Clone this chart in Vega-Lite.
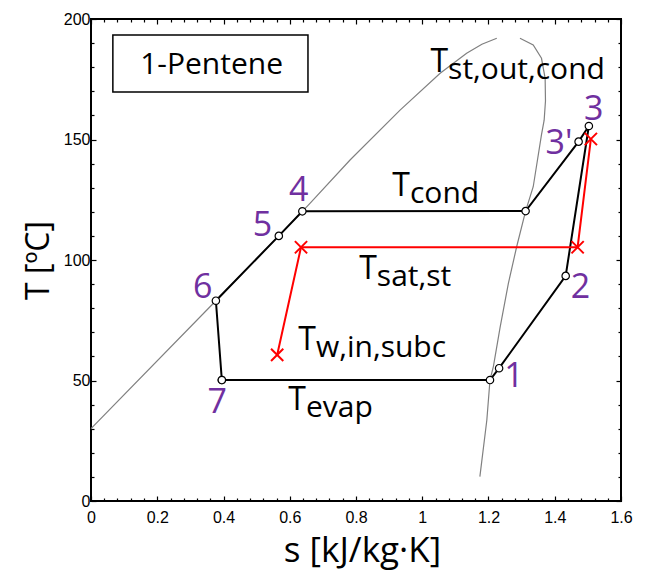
{
  "$schema": "https://vega.github.io/schema/vega-lite/v6.json",
  "width": 530,
  "height": 482,
  "autosize": {"type": "none"},
  "padding": {"left": 91, "top": 19, "right": 25, "bottom": 69},
  "config": {
    "view": {"stroke": "black", "strokeWidth": 2},
    "font": "Open Sans",
    "axis": {"grid": false, "domain": false, "tickColor": "black", "tickWidth": 1.2, "labelOverlap": false, "labelFlush": false, "labelColor": "black", "titleColor": "black"}
  },
  "datasets": {
    "liq": [
      {"s": 0, "T": 30}, {"s": 0.377, "T": 83.1}, {"s": 0.567, "T": 110}, {"s": 0.638, "T": 120.2},
      {"s": 0.661, "T": 123.5}, {"s": 0.782, "T": 141.5}, {"s": 0.933, "T": 162.2}, {"s": 1.054, "T": 177.5},
      {"s": 1.134, "T": 185.8}, {"s": 1.18, "T": 189.5}, {"s": 1.225, "T": 192}
    ],
    "vap": [
      {"o": 1, "s": 1.295, "T": 192}, {"o": 2, "s": 1.335, "T": 189.2}, {"o": 3, "s": 1.36, "T": 183.7},
      {"o": 4, "s": 1.371, "T": 175.4}, {"o": 5, "s": 1.372, "T": 166}, {"o": 6, "s": 1.368, "T": 158},
      {"o": 7, "s": 1.36, "T": 152}, {"o": 8, "s": 1.335, "T": 130.4}, {"o": 9, "s": 1.312, "T": 120.3},
      {"o": 10, "s": 1.285, "T": 105.5}, {"o": 11, "s": 1.26, "T": 90.3}, {"o": 12, "s": 1.235, "T": 72},
      {"o": 13, "s": 1.215, "T": 56}, {"o": 14, "s": 1.2045, "T": 50.2}, {"o": 15, "s": 1.195, "T": 33.6},
      {"o": 16, "s": 1.174, "T": 10.1}
    ],
    "cycle": [
      {"o": 1, "s": 0.395, "T": 50.2}, {"o": 2, "s": 1.2045, "T": 50.2}, {"o": 3, "s": 1.232, "T": 55.1},
      {"o": 4, "s": 1.433, "T": 93.4}, {"o": 5, "s": 1.503, "T": 155.6}, {"o": 6, "s": 1.472, "T": 149.1},
      {"o": 7, "s": 1.312, "T": 120.3}, {"o": 8, "s": 0.638, "T": 120.2}, {"o": 9, "s": 0.567, "T": 110},
      {"o": 10, "s": 0.377, "T": 83.1}, {"o": 11, "s": 0.395, "T": 50.2}
    ],
    "steam": [
      {"o": 1, "s": 0.562, "T": 60.6}, {"o": 2, "s": 0.634, "T": 105.3},
      {"o": 3, "s": 1.469, "T": 105.3}, {"o": 4, "s": 1.509, "T": 150.2}
    ],
    "nums": [
      {"s": 1.518, "T": 162.2, "lab": "3"}, {"s": 1.413, "T": 148.3, "lab": "3'"},
      {"s": 0.627, "T": 128.7, "lab": "4"}, {"s": 0.518, "T": 114.2, "lab": "5"},
      {"s": 0.337, "T": 88.4, "lab": "6"}, {"s": 0.381, "T": 40.5, "lab": "7"},
      {"s": 1.277, "T": 51.6, "lab": "1"}, {"s": 1.478, "T": 88.4, "lab": "2"}
    ],
    "tl": [
      {"s": 1.078, "T": 178.1, "sub": "st,out,cond"},
      {"s": 0.963, "T": 126.6, "sub": "cond"},
      {"s": 0.863, "T": 92.1, "sub": "sat,st"},
      {"s": 0.679, "T": 62.7, "sub": "w,in,subc"},
      {"s": 0.649, "T": 37.8, "sub": "evap"}
    ]
  },
  "resolve": {"axis": {"x": "independent", "y": "independent"}},
  "layer": [
    {
      "encoding": {
        "x": {
          "field": "s", "type": "quantitative",
          "scale": {"domain": [0, 1.6], "nice": false, "zero": false},
          "axis": {
            "orient": "bottom",
            "values": [0,0.04,0.08,0.12,0.16,0.2,0.24,0.28,0.32,0.36,0.4,0.44,0.48,0.52,0.56,0.6,0.64,0.68,0.72,0.76,0.8,0.84,0.88,0.92,0.96,1,1.04,1.08,1.12,1.16,1.2,1.24,1.28,1.32,1.36,1.4,1.44,1.48,1.52,1.56,1.6],
            "labelExpr": "abs(datum.value*5-round(datum.value*5))<0.001 ? format(datum.value,'~g') : ''",
            "tickSize": {"condition": {"test": "abs(datum.value*5-round(datum.value*5))<0.001", "value": -5}, "value": -3},
            "labelFont": "Liberation Sans", "labelFontSize": 16, "labelPadding": 13,
            "title": "s [kJ/kg·K]", "titleFont": "Open Sans", "titleFontSize": 35, "titleFontWeight": "normal", "titlePadding": 6, "titleX": 271
          }
        },
        "y": {
          "field": "T", "type": "quantitative",
          "scale": {"domain": [0, 200], "nice": false},
          "axis": {
            "orient": "left",
            "values": [0,10,20,30,40,50,60,70,80,90,100,110,120,130,140,150,160,170,180,190,200],
            "labelExpr": "datum.value%50==0 ? datum.value+'' : ''",
            "tickSize": {"condition": {"test": "datum.value%50==0", "value": -5}, "value": -3},
            "labelFont": "Liberation Sans", "labelFontSize": 16, "labelPadding": 6,
            "title": "T [ºC]", "titleFont": "Open Sans", "titleFontSize": 32, "titleFontWeight": "normal", "titlePadding": 8
          }
        }
      },
      "layer": [
        {"data": {"name": "liq"}, "mark": {"type": "line", "color": "#808080", "strokeWidth": 1.2}, "encoding": {}},
        {"data": {"name": "vap"}, "mark": {"type": "line", "color": "#808080", "strokeWidth": 1.2}, "encoding": {"order": {"field": "o", "type": "quantitative"}}},
        {"data": {"name": "cycle"}, "mark": {"type": "line", "color": "black", "strokeWidth": 2}, "encoding": {"order": {"field": "o", "type": "quantitative"}}},
        {"data": {"name": "steam"}, "mark": {"type": "line", "color": "#FF0000", "strokeWidth": 2}, "encoding": {"order": {"field": "o", "type": "quantitative"}}},
        {"data": {"name": "cycle"}, "mark": {"type": "point", "filled": true, "fill": "white", "stroke": "black", "strokeWidth": 1.2, "size": 55, "opacity": 1}, "encoding": {}},
        {"data": {"name": "steam"}, "mark": {"type": "point", "shape": "M-1,-1L1,1M-1,1L1,-1", "filled": false, "stroke": "#FF0000", "strokeWidth": 2, "size": 150, "opacity": 1}, "encoding": {}},
        {"data": {"name": "nums"}, "mark": {"type": "text", "color": "#7030A0", "fontSize": 34, "font": "Open Sans", "align": "center", "baseline": "middle"}, "encoding": {"text": {"field": "lab"}}},
        {"data": {"name": "tl"}, "mark": {"type": "text", "text": "T", "color": "black", "fontSize": 32, "font": "Open Sans", "align": "right", "baseline": "alphabetic"}, "encoding": {}},
        {"data": {"name": "tl"}, "mark": {"type": "text", "color": "black", "fontSize": 30, "font": "Open Sans", "align": "left", "baseline": "alphabetic", "dy": 7}, "encoding": {"text": {"field": "sub"}}}
      ]
    },
    {
      "data": {"values": [{"s0": 0.066, "s1": 0.655, "T0": 169.7, "T1": 193.4}]},
      "mark": {"type": "rect", "fill": "white", "stroke": "black", "strokeWidth": 1.5},
      "encoding": {
        "x": {"field": "s0", "type": "quantitative", "axis": {
          "orient": "top", "labels": false, "title": null,
          "values": [0,0.04,0.08,0.12,0.16,0.2,0.24,0.28,0.32,0.36,0.4,0.44,0.48,0.52,0.56,0.6,0.64,0.68,0.72,0.76,0.8,0.84,0.88,0.92,0.96,1,1.04,1.08,1.12,1.16,1.2,1.24,1.28,1.32,1.36,1.4,1.44,1.48,1.52,1.56,1.6],
          "tickSize": {"condition": {"test": "abs(datum.value*5-round(datum.value*5))<0.001", "value": -5}, "value": -3}
        }},
        "x2": {"field": "s1"},
        "y": {"field": "T0", "type": "quantitative", "axis": {
          "orient": "right", "labels": false, "title": null,
          "values": [0,10,20,30,40,50,60,70,80,90,100,110,120,130,140,150,160,170,180,190,200],
          "tickSize": {"condition": {"test": "datum.value%50==0", "value": -5}, "value": -3}
        }},
        "y2": {"field": "T1"}
      }
    },
    {
      "data": {"values": [{"s": 0.364, "T": 180.9, "name": "1-Pentene"}]},
      "mark": {"type": "text", "color": "black", "fontSize": 30, "font": "Open Sans", "align": "center", "baseline": "middle"},
      "encoding": {
        "x": {"field": "s", "type": "quantitative", "axis": null},
        "y": {"field": "T", "type": "quantitative", "axis": null},
        "text": {"field": "name"}
      }
    }
  ]
}
